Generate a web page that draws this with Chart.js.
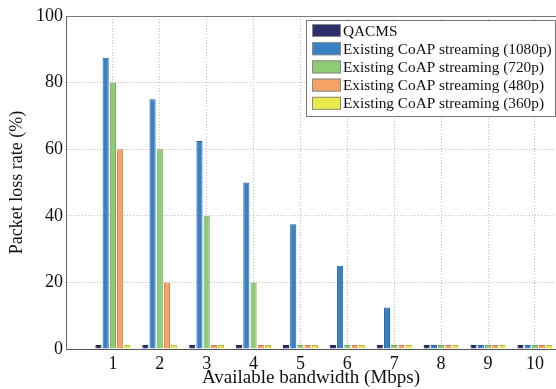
<!DOCTYPE html>
<html>
<head>
<meta charset="utf-8">
<script src="https://cdn.jsdelivr.net/npm/chart.js@4.4.1/dist/chart.umd.min.js"></script>
<style>
html,body{margin:0;padding:0;background:#fff;overflow:hidden;}
#wrap{width:556px;height:389px;position:relative;}
</style>
</head>
<body>
<div id="wrap"><canvas id="c" width="556" height="389"></canvas></div>
<script>
const bandwidths = [1, 2, 3, 4, 5, 6, 7, 8, 9, 10];
const seriesNames = [
  'QACMS',
  'Existing CoAP streaming (1080p)',
  'Existing CoAP streaming (720p)',
  'Existing CoAP streaming (480p)',
  'Existing CoAP streaming (360p)'
];
const qacms   = [1.2, 1.2, 1.2, 1.2, 1.2, 1.2, 1.2, 1.2, 1.2, 1.2];
const p1080   = [87.5, 75, 62.5, 50, 37.5, 25, 12.5, 1.2, 1.2, 1.2];
const p720    = [80, 60, 40, 20, 1.2, 1.2, 1.2, 1.2, 1.2, 1.2];
const p480    = [60, 20, 1.2, 1.2, 1.2, 1.2, 1.2, 1.2, 1.2, 1.2];
const p360    = [1.2, 1.2, 1.2, 1.2, 1.2, 1.2, 1.2, 1.2, 1.2, 1.2];
const yTicks  = [0, 20, 40, 60, 80, 100];

const fills   = ['#2c2f6c', '#3a80c4', '#8ecb74', '#f7a365', '#e9e84c'];
const borders = ['#1c1f4c', '#22609e', '#6aa356', '#c97c48', '#b3b238'];

const seriesVals = [qacms, p1080, p720, p480, p360];
const datasets = seriesVals.map((vals, i) => ({
  label: seriesNames[i],
  data: bandwidths.map((b, j) => ({x: b, y: vals[j]})),
  backgroundColor: fills[i],
  borderColor: borders[i],
  borderWidth: 1,
  categoryPercentage: 0.77,
  barPercentage: 0.85
}));

const FONT = '"Liberation Serif", "Times New Roman", serif';

const legendPlugin = {
  id: 'boxLegend',
  afterDraw(chart) {
    const ctx = chart.ctx;
    const a = chart.chartArea;
    ctx.save();
    ctx.strokeStyle = '#7a7a7a';
    ctx.lineWidth = 1;
    ctx.beginPath();
    ctx.moveTo(a.left, a.top + 0.5);
    ctx.lineTo(a.right, a.top + 0.5);
    ctx.stroke();
    const bx = 306.5, by = 20.5, bw = 249, bh = 96;
    ctx.fillStyle = '#fff';
    ctx.fillRect(bx, by, bw, bh);
    ctx.strokeStyle = '#777';
    ctx.strokeRect(bx, by, bw, bh);
    ctx.font = '15.3px ' + FONT;
    ctx.textBaseline = 'middle';
    ctx.textAlign = 'left';
    chart.data.datasets.forEach((ds, i) => {
      const y = 24 + i * 18.2;
      ctx.fillStyle = ds.backgroundColor;
      ctx.fillRect(312, y, 29, 13);
      ctx.strokeStyle = '#8a8a8a';
      ctx.strokeRect(312.5, y + 0.5, 28, 12);
      ctx.fillStyle = '#111';
      ctx.fillText(ds.label, 343, y + 7.5);
    });
    ctx.restore();
  }
};

new Chart(document.getElementById('c'), {
  type: 'bar',
  data: { datasets },
  options: {
    responsive: false,
    animation: false,
    layout: { padding: { top: 16, right: 0, left: 0, bottom: 0 } },
    plugins: { legend: { display: false }, tooltip: { enabled: false } },
    scales: {
      x: {
        type: 'linear',
        offset: false,
        min: 0,
        max: 10.45,
        afterBuildTicks(s) { s.ticks = bandwidths.map(v => ({value: v})); },
        afterFit(s) { s.height = 40; },
        ticks: {
          autoSkip: false,
          maxRotation: 0,
          color: '#111',
          font: { family: FONT, size: 18 },
          padding: 4
        },
        grid: {
          offset: false,
          color: '#bdbdbd',
          lineWidth: 1,
          drawTicks: false,
          tickLength: 0
        },
        border: { display: true, color: '#555', dash: [1, 2] },
        title: {
          display: true,
          text: 'Available bandwidth (Mbps)',
          color: '#111',
          font: { family: FONT, size: 19 },
          padding: { top: 0, bottom: 0 }
        }
      },
      y: {
        min: 0,
        max: 100,
        afterBuildTicks(s) { s.ticks = yTicks.map(v => ({value: v})); },
        afterFit(s) { s.width = 66; },
        ticks: {
          color: '#111',
          font: { family: FONT, size: 18 },
          padding: 3
        },
        grid: {
          color: '#bdbdbd',
          lineWidth: 1,
          drawTicks: false,
          tickLength: 0
        },
        border: { display: true, color: '#666', dash: [1, 2] },
        title: {
          display: true,
          text: 'Packet loss rate (%)',
          color: '#111',
          font: { family: FONT, size: 18 },
          padding: { top: 6, bottom: 0 }
        }
      }
    }
  },
  plugins: [legendPlugin]
});
</script>
</body>
</html>
